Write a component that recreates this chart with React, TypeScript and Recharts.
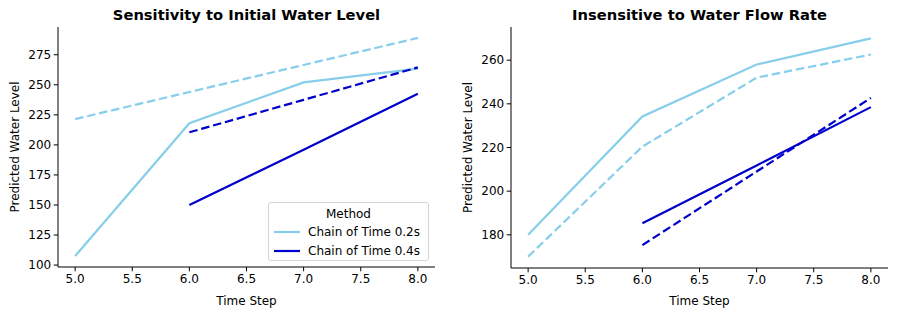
import React from 'react';
import { LineChart, Line, XAxis, YAxis } from 'recharts';

const timeSteps = [5, 6, 7, 8];
const xTicks = [5.0, 5.5, 6.0, 6.5, 7.0, 7.5, 8.0];

// Left panel: Sensitivity to Initial Water Level
const leftLight = [107.5, 218, 252, 263.5];
const leftLightDashed = [221.5, 244, 266.5, 289];
const leftDark = [null, 150, 196, 242.5];
const leftDarkDashed = [null, 210.5, 237.5, 264.5];
const leftYTicks = [100, 125, 150, 175, 200, 225, 250, 275];

// Right panel: Insensitive to Water Flow Rate
const rightLight = [180, 234.2, 258, 270];
const rightLightDashed = [170, 220.4, 252, 262.6];
const rightDark = [null, 185.3, 211.8, 238.5];
const rightDarkDashed = [null, 175.3, 209, 242.7];
const rightYTicks = [180, 200, 220, 240, 260];

const legendTitle = 'Method';
const legendItems = ['Chain of Time 0.2s', 'Chain of Time 0.4s'];

const LIGHT = '#87CEEB';
const DARK = '#0000CD';
const FONT = 'DejaVu Sans, sans-serif';
const LW = 2.2;
const DASH = '8.5 3.8';
const legendColors = [LIGHT, DARK];

const build = (a: (number | null)[], b: (number | null)[], c: (number | null)[], d: (number | null)[]) =>
  timeSteps.map((t, i) => ({ t, a: a[i], b: b[i], c: c[i], d: d[i] }));

const leftData = build(leftLight, leftLightDashed, leftDark, leftDarkDashed);
const rightData = build(rightLight, rightLightDashed, rightDark, rightDarkDashed);

const tickStyle = { fill: '#000', fontSize: 12, fontFamily: FONT };

const LegendBox = () => (
  <div
    style={{
      position: 'absolute',
      left: 268,
      top: 202,
      width: 159,
      height: 57,
      border: '1px solid #d5d5d5',
      borderRadius: 3,
      background: 'rgba(255,255,255,0.8)',
      fontFamily: FONT,
      fontSize: 12,
      color: '#000',
      boxSizing: 'content-box',
    }}
  >
    <div style={{ position: 'absolute', top: 4, left: 0, width: '100%', textAlign: 'center', lineHeight: '14px' }}>{legendTitle}</div>
    {legendItems.map((name, i) => (
      <div key={i} style={{ position: 'absolute', left: 5, top: 22 + i * 18.6, height: 14, display: 'flex', alignItems: 'center' }}>
        <svg width={26} height={4} style={{ display: 'block' }}>
          <line x1={0} y1={2} x2={26} y2={2} stroke={legendColors[i]} strokeWidth={LW} />
        </svg>
        <span style={{ marginLeft: 8, lineHeight: '14px', whiteSpace: 'nowrap' }}>{name}</span>
      </div>
    ))}
  </div>
);

const Panel = ({ data, yDomain, yTicks, yAxisWidth, marginRight, xAxisHeight, width, yLabelOffset }: any) => (
  <LineChart width={width} height={315} data={data} margin={{ top: 27, right: marginRight, bottom: 0, left: 0 }}>
    <XAxis
      dataKey="t"
      type="number"
      domain={[4.85, 8.15]}
      ticks={xTicks}
      tickFormatter={(v: number) => v.toFixed(1)}
      allowDataOverflow
      height={xAxisHeight}
      tick={tickStyle}
      tickSize={4.3}
      tickMargin={3}
      stroke="#000"
      axisLine={{ stroke: '#000', strokeWidth: 1 }}
      tickLine={{ stroke: '#000', strokeWidth: 1 }}
      label={{ value: 'Time Step', position: 'insideBottom', offset: 10, fill: '#000', fontSize: 12, fontFamily: FONT }}
    />
    <YAxis
      type="number"
      domain={yDomain}
      ticks={yTicks}
      allowDataOverflow
      width={yAxisWidth}
      tick={tickStyle}
      tickSize={4.3}
      tickMargin={2.5}
      stroke="#000"
      axisLine={{ stroke: '#000', strokeWidth: 1 }}
      tickLine={{ stroke: '#000', strokeWidth: 1 }}
      label={{ value: 'Predicted Water Level', angle: -90, position: 'insideLeft', offset: yLabelOffset, style: { textAnchor: 'middle' }, fill: '#000', fontSize: 12, fontFamily: FONT }}
    />
    <Line dataKey="a" name="Chain of Time 0.2s" stroke={LIGHT} strokeWidth={LW} dot={false} activeDot={false} isAnimationActive={false} />
    <Line dataKey="b" name="light dashed" stroke={LIGHT} strokeWidth={LW} strokeDasharray={DASH} dot={false} activeDot={false} isAnimationActive={false} />
    <Line dataKey="c" name="Chain of Time 0.4s" stroke={DARK} strokeWidth={LW} dot={false} activeDot={false} isAnimationActive={false} />
    <Line dataKey="d" name="dark dashed" stroke={DARK} strokeWidth={LW} strokeDasharray={DASH} dot={false} activeDot={false} isAnimationActive={false} />
  </LineChart>
);

const titleStyle: React.CSSProperties = {
  position: 'absolute',
  top: 6,
  fontFamily: FONT,
  fontWeight: 'bold',
  fontSize: 14.7,
  color: '#000',
  whiteSpace: 'nowrap',
  transform: 'translateX(-50%)',
  lineHeight: '18px',
};

export default function App() {
  return (
    <div style={{ position: 'absolute', left: 0, top: 0, width: 897, height: 315, background: '#fff' }}>
      <div style={{ position: 'absolute', left: 0, top: 0 }}>
        <Panel data={leftData} yDomain={[98.4, 298.1]} yTicks={leftYTicks} yAxisWidth={58} marginRight={15} xAxisHeight={48} width={450} yLabelOffset={14.5} />
        <LegendBox />
      </div>
      <div style={{ position: 'absolute', left: 450, top: 0 }}>
        <Panel data={rightData} yDomain={[164.8, 275.2]} yTicks={rightYTicks} yAxisWidth={61} marginRight={9} xAxisHeight={47} width={447} yLabelOffset={17.5} />
      </div>
      <div style={{ ...titleStyle, left: 246.5 }}>Sensitivity to Initial Water Level</div>
      <div style={{ ...titleStyle, left: 699.5 }}>Insensitive to Water Flow Rate</div>
    </div>
  );
}
